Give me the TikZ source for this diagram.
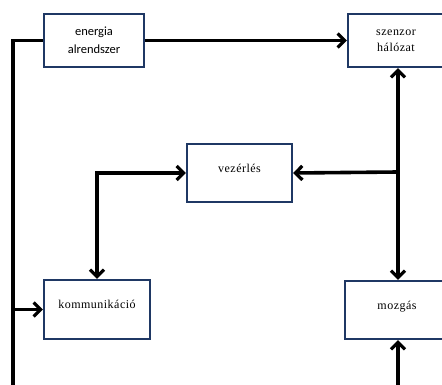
\documentclass[tikz,border=0pt]{standalone}
\usepackage{fontspec}
\setmainfont[LetterSpace=4]{Liberation Serif}
\newfontfamily\boxsans{Carlito}
\usetikzlibrary{arrows.meta,calc}
\definecolor{boxblue}{RGB}{31,56,100}
\tikzset{
    block/.style={draw=boxblue,line width=2.2pt,fill=white,align=center,
        inner sep=2pt,font=\fontsize{12}{16}\selectfont},
    sansblock/.style={block,font=\boxsans\fontsize{12.5}{18}\selectfont},
    conn/.style={line width=3.6pt,black},
    arr/.style={conn,-{Straight Barb[length=7pt,width=14pt,line width=3.2pt]}},
    biarr/.style={conn,{Straight Barb[length=7pt,width=14pt,line width=3.2pt]}-{Straight Barb[length=7pt,width=14pt,line width=3.2pt]}}
}
\begin{document}
\begin{tikzpicture}[x=1pt,y=-1pt]
    \useasboundingbox (0,0) rectangle (442,385);
    % Boxes
    \node[sansblock,minimum width=100pt,minimum height=53pt] (energia) at (94,40.5) {energia\\alrendszer};
    \node[block,minimum width=96pt,minimum height=53pt] (szenzor) at (396,40.5) {szenzor\\hálózat};
    \node[block,minimum width=105pt,minimum height=58pt,text depth=10pt] (vezerles) at (239.5,173) {vezérlés};
    \node[block,minimum width=106pt,minimum height=59pt,text depth=10pt] (kommunikacio) at (97,309.5) {kommunikáció};
    \node[block,minimum width=104pt,minimum height=58pt,text depth=10pt] (mozgas) at (397,310) {mozgás};
    % Free ends
    \coordinate (leftbot) at (13,385);
    \coordinate (spine) at (398,172);
    \coordinate (mozbot) at (398,385);
    % Energy supply
    \draw[conn] (energia.west) -| (leftbot);
    \draw[arr] (kommunikacio.west -| leftbot) -- (kommunikacio.west);
    \draw[arr] (energia.east) -- (szenzor.west);
    % Sensors, control, motion
    \draw[biarr] (szenzor.south -| spine) -- (mozgas.north -| spine);
    \draw[arr] (spine) -- (vezerles.east);
    \draw[biarr] (vezerles.west) -| (kommunikacio.north);
    \draw[arr] (mozbot) -- (mozgas.south -| mozbot);
\end{tikzpicture}
\end{document}
